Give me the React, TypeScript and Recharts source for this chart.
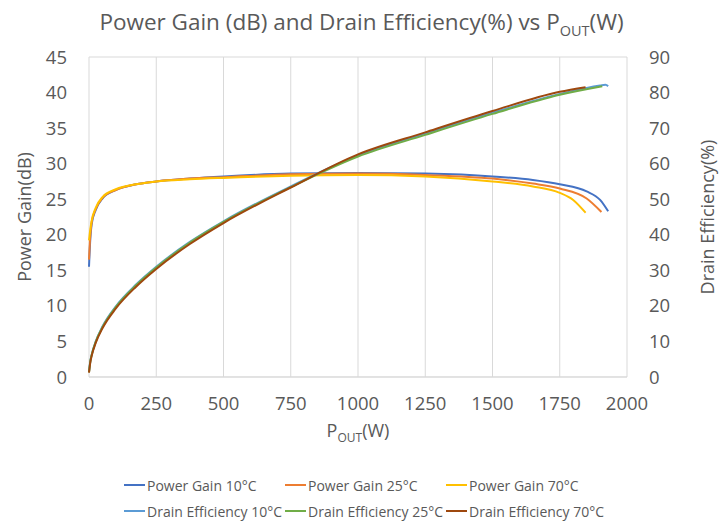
import React from 'react';
import { LineChart, Line, XAxis, YAxis, CartesianGrid } from 'recharts';

// output power (W) sample points for each trace
const gainPout10 = [0, 5, 10, 25, 50, 100, 175, 250, 375, 500, 750, 1000, 1250, 1500, 1650, 1750, 1850, 1900, 1930];
const gainPout25 = [0, 5, 10, 25, 50, 100, 175, 250, 375, 500, 750, 1000, 1250, 1500, 1650, 1750, 1850, 1905];
const gainPout70 = [0, 5, 10, 25, 50, 100, 175, 250, 375, 500, 750, 1000, 1250, 1500, 1650, 1750, 1800, 1846];

const gain10 = [15.5, 19.5, 21.5, 23.5, 25.1, 26.3, 27.1, 27.5, 27.9, 28.2, 28.6, 28.7, 28.6, 28.2, 27.7, 27.1, 26.1, 24.9, 23.3];
const gain25 = [16.5, 20.0, 21.8, 23.6, 25.2, 26.3, 27.1, 27.5, 27.9, 28.1, 28.5, 28.6, 28.4, 27.9, 27.2, 26.5, 25.1, 23.2];
const gain70 = [19.2, 20.8, 22.0, 23.8, 25.3, 26.4, 27.1, 27.5, 27.8, 28.0, 28.3, 28.4, 28.2, 27.5, 26.8, 25.9, 24.9, 23.1];

const effPout10 = [0, 5, 10, 25, 50, 100, 175, 250, 375, 500, 750, 1000, 1250, 1500, 1750, 1900, 1920, 1930];
const effPout25 = [0, 5, 10, 25, 50, 100, 175, 250, 375, 500, 750, 1000, 1250, 1500, 1750, 1908];
const effPout70 = [0, 5, 10, 25, 50, 100, 175, 250, 375, 500, 750, 1000, 1250, 1500, 1750, 1846];

const eff10 = [1.5, 4.5, 6.3, 10.0, 14.2, 19.9, 26.0, 31.0, 38.0, 43.8, 53.6, 62.3, 68.4, 74.3, 79.6, 82.0, 82.2, 81.8];
const eff25 = [1.3, 4.4, 6.2, 9.9, 14.0, 19.7, 25.8, 30.8, 37.8, 43.6, 53.4, 62.0, 68.1, 74.0, 79.4, 81.8];
const eff70 = [1.2, 4.2, 6.0, 9.6, 13.7, 19.3, 25.4, 30.4, 37.4, 43.3, 53.3, 62.6, 68.8, 74.8, 80.2, 81.5];

const xTicks = [0, 250, 500, 750, 1000, 1250, 1500, 1750, 2000];
const gainTicks = [0, 5, 10, 15, 20, 25, 30, 35, 40, 45];
const effTicks = [0, 10, 20, 30, 40, 50, 60, 70, 80, 90];

const toPoints = (xs: number[], ys: number[]) => xs.map((x, i) => ({ x, y: ys[i] }));

const series = [
  { name: 'Power Gain 10°C', color: '#4472C4', axis: 'left', data: toPoints(gainPout10, gain10) },
  { name: 'Power Gain 25°C', color: '#ED7D31', axis: 'left', data: toPoints(gainPout25, gain25) },
  { name: 'Power Gain 70°C', color: '#FFC000', axis: 'left', data: toPoints(gainPout70, gain70) },
  { name: 'Drain Efficiency 10°C', color: '#5B9BD5', axis: 'right', data: toPoints(effPout10, eff10) },
  { name: 'Drain Efficiency 25°C', color: '#70AD47', axis: 'right', data: toPoints(effPout25, eff25) },
  { name: 'Drain Efficiency 70°C', color: '#9E480E', axis: 'right', data: toPoints(effPout70, eff70) },
];

const font = '"Open Sans", sans-serif';
const textColor = '#595959';
const tickStyle = { fontSize: 18.5, fill: textColor, fontFamily: font };

const App = () => {
  return (
    <div style={{ position: 'absolute', left: 0, top: 0, width: 723, height: 521, background: '#fff', fontFamily: font, color: textColor }}>
      <LineChart width={723} height={521} margin={{ top: 57, right: 36, bottom: 104, left: 0 }}>
        <CartesianGrid stroke="#D9D9D9" strokeWidth={1} />
        <XAxis
          type="number"
          dataKey="x"
          domain={[0, 2000]}
          ticks={xTicks}
          tickLine={false}
          axisLine={{ stroke: '#D9D9D9' }}
          tickMargin={14}
          tick={tickStyle}
          height={40}
          allowDuplicatedCategory={false}
        />
        <YAxis
          yAxisId="left"
          domain={[0, 45]}
          ticks={gainTicks}
          tickLine={false}
          axisLine={false}
          tickMargin={16}
          tick={tickStyle}
          width={89}
        />
        <YAxis
          yAxisId="right"
          orientation="right"
          domain={[0, 90]}
          ticks={effTicks}
          tickLine={false}
          axisLine={false}
          tickMargin={16}
          tick={{ ...tickStyle, textAnchor: 'start' }}
          width={60}
        />
        {series.map((s) => (
          <Line
            key={s.name}
            yAxisId={s.axis}
            data={s.data}
            dataKey="y"
            type="monotone"
            stroke={s.color}
            strokeWidth={2}
            dot={false}
            isAnimationActive={false}
          />
        ))}
      </LineChart>

      <div style={{ position: 'absolute', top: 7, left: 0, width: 723, textAlign: 'center', fontSize: 22.5, lineHeight: '30px', whiteSpace: 'nowrap' }}>
        Power Gain (dB) and Drain Efficiency(%) vs P<sub style={{ fontSize: 14.5, lineHeight: 0 }}>OUT</sub>(W)
      </div>

      <div style={{ position: 'absolute', top: 418, left: 258, width: 200, textAlign: 'center', fontSize: 18, lineHeight: '25px', whiteSpace: 'nowrap' }}>
        P<sub style={{ fontSize: 12, lineHeight: 0 }}>OUT</sub>(W)
      </div>

      <div style={{ position: 'absolute', left: 24, top: 217, transform: 'translate(-50%, -50%) rotate(-90deg)', fontSize: 18, whiteSpace: 'nowrap' }}>
        Power Gain(dB)
      </div>

      <div style={{ position: 'absolute', left: 707, top: 217, transform: 'translate(-50%, -50%) rotate(-90deg)', fontSize: 18, whiteSpace: 'nowrap' }}>
        Drain Efficiency(%)
      </div>

      {series.map((s, i) => (
        <div
          key={s.name}
          style={{
            position: 'absolute',
            left: 124 + (i % 3) * 161,
            top: 476 + Math.floor(i / 3) * 26,
            display: 'flex',
            alignItems: 'center',
            fontSize: 14,
            whiteSpace: 'nowrap',
            height: 18,
          }}
        >
          <span style={{ display: 'inline-block', width: 21, height: 2, background: s.color, marginRight: 2 }} />
          {s.name}
        </div>
      ))}
    </div>
  );
};

export default App;
